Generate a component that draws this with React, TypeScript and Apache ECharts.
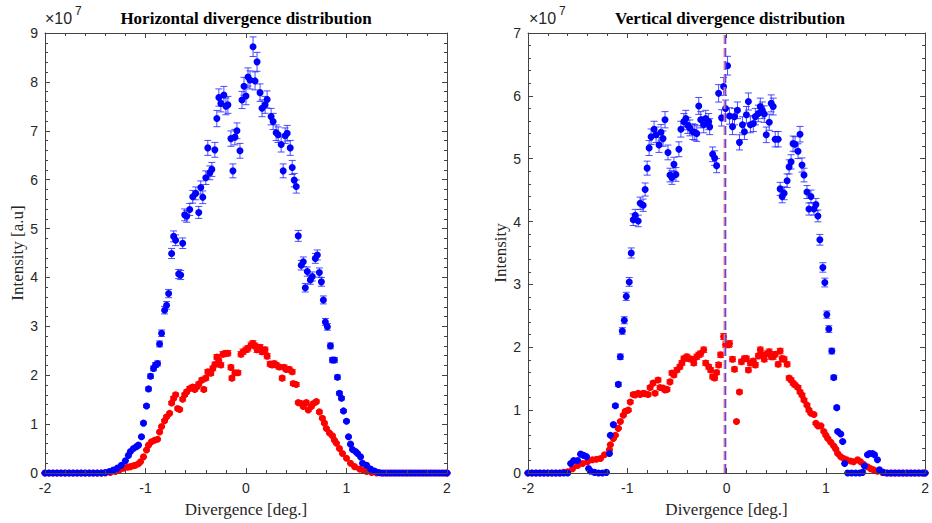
import React, { useEffect, useRef } from 'react';
import * as echarts from 'echarts';

// Values are in units of 1e7 (the "×10^7" axis multiplier).
const X_MIN = -2;
const X_MAX = 2;
const H_Y_MAX = 9;
const V_Y_MAX = 7;
const EXP_BASE = '×10';
const EXP_POWER = '7';
const H_TITLE = 'Horizontal divergence distribution';
const V_TITLE = 'Vertical divergence distribution';
const X_NAME = 'Divergence [deg.]';
const H_Y_NAME = 'Intensity [a.u]';
const V_Y_NAME = 'Intensity';

// Horizontal distribution – blue series
const hBlue: number[][] = [
  [-2, 0], [-1.96, 0], [-1.92, 0], [-1.88, 0], [-1.84, 0], [-1.8, 0], [-1.76, 0], [-1.72, 0], [-1.68, 0], [-1.64, 0],
  [-1.6, 0], [-1.56, 0], [-1.52, 0], [-1.48, 0], [-1.44, 0],
  [-1.4, 0.01], [-1.36, 0.03], [-1.32, 0.06], [-1.28, 0.1], [-1.24, 0.16], [-1.2, 0.25], [-1.17, 0.36], [-1.15, 0.44],
  [-1.12, 0.5], [-1.09, 0.54], [-1.07, 0.57], [-1.04, 0.74], [-1.02, 1.02], [-0.99, 1.37], [-0.97, 1.72], [-0.95, 1.98],
  [-0.92, 2.14], [-0.9, 2.21], [-0.88, 2.24], [-0.86, 2.64], [-0.84, 2.86], [-0.81, 3.33], [-0.79, 3.43], [-0.77, 3.67],
  [-0.74, 4.49], [-0.72, 4.84], [-0.7, 4.76], [-0.67, 4.07], [-0.65, 4.05], [-0.63, 4.7], [-0.61, 5.28], [-0.59, 5.25],
  [-0.56, 5.39], [-0.53, 5.65], [-0.5, 5.72], [-0.47, 5.33], [-0.45, 5.84], [-0.43, 5.64], [-0.4, 6.04], [-0.38, 6.65],
  [-0.36, 6.14], [-0.34, 6.21], [-0.31, 6.61], [-0.29, 7.25], [-0.27, 7.68], [-0.25, 7.56], [-0.22, 7.73], [-0.2, 7.5],
  [-0.18, 7.53], [-0.15, 6.84], [-0.13, 6.18], [-0.11, 6.87], [-0.09, 7.0], [-0.06, 6.59], [-0.04, 7.63], [-0.02, 7.91],
  [0, 7.71], [0.02, 8.1], [0.04, 8.04], [0.07, 8.72], [0.09, 8.02], [0.11, 8.41], [0.14, 7.78], [0.16, 7.46], [0.19, 7.53],
  [0.21, 7.64], [0.25, 7.29], [0.27, 7.19], [0.3, 6.96], [0.32, 6.92], [0.35, 6.72], [0.37, 6.18], [0.39, 6.9], [0.41, 6.95],
  [0.44, 6.65], [0.46, 6.25], [0.48, 5.99], [0.5, 5.86], [0.52, 4.85], [0.55, 4.25], [0.57, 4.32], [0.59, 3.79], [0.61, 4.12],
  [0.64, 3.95], [0.66, 4.02], [0.69, 4.39], [0.71, 4.46], [0.73, 4.1], [0.75, 3.91], [0.77, 3.54], [0.79, 3.09], [0.81, 2.99],
  [0.84, 2.6], [0.86, 2.31], [0.88, 2.31], [0.91, 1.96], [0.93, 1.63], [0.95, 1.53], [0.97, 1.27], [1.0, 1.06], [1.02, 0.74],
  [1.04, 0.59], [1.06, 0.48], [1.09, 0.44], [1.11, 0.4], [1.14, 0.33], [1.16, 0.2], [1.2, 0.16], [1.24, 0.08], [1.28, 0.04],
  [1.32, 0.01], [1.36, 0], [1.4, 0], [1.44, 0], [1.48, 0], [1.52, 0], [1.56, 0], [1.6, 0], [1.64, 0], [1.68, 0], [1.72, 0],
  [1.76, 0], [1.8, 0], [1.84, 0], [1.88, 0], [1.92, 0], [1.96, 0], [2, 0],
];

// Horizontal distribution – red series
const hRed: number[][] = [
  [-2, 0], [-1.96, 0], [-1.92, 0], [-1.88, 0], [-1.84, 0], [-1.8, 0], [-1.76, 0], [-1.72, 0], [-1.68, 0], [-1.64, 0],
  [-1.6, 0], [-1.56, 0], [-1.52, 0], [-1.48, 0], [-1.44, 0],
  [-1.4, 0], [-1.35, 0.01], [-1.3, 0.03], [-1.26, 0.06], [-1.22, 0.1], [-1.18, 0.12], [-1.15, 0.13], [-1.12, 0.15],
  [-1.1, 0.16], [-1.07, 0.19], [-1.05, 0.23], [-1.02, 0.33], [-0.99, 0.47], [-0.97, 0.57], [-0.94, 0.64], [-0.91, 0.67],
  [-0.88, 0.69], [-0.86, 0.84], [-0.84, 0.95], [-0.81, 1.07], [-0.79, 1.15], [-0.76, 1.22], [-0.74, 1.43], [-0.72, 1.53],
  [-0.7, 1.6], [-0.68, 1.32], [-0.66, 1.3], [-0.63, 1.51], [-0.61, 1.6], [-0.59, 1.66], [-0.56, 1.73], [-0.53, 1.76],
  [-0.51, 1.71], [-0.49, 1.76], [-0.47, 1.82], [-0.44, 1.9], [-0.42, 1.71], [-0.4, 1.94], [-0.38, 2.07], [-0.35, 2.04],
  [-0.33, 2.14], [-0.31, 2.22], [-0.29, 2.37], [-0.27, 2.3], [-0.25, 2.21], [-0.23, 2.43], [-0.2, 2.45], [-0.18, 2.45],
  [-0.15, 2.16], [-0.14, 1.94], [-0.11, 2.05], [-0.08, 2.05], [-0.05, 2.43], [-0.03, 2.48], [0, 2.52], [0.02, 2.55],
  [0.05, 2.62], [0.07, 2.65], [0.09, 2.6], [0.11, 2.52], [0.14, 2.57], [0.16, 2.48], [0.19, 2.52], [0.21, 2.39],
  [0.24, 2.23], [0.26, 2.21], [0.28, 2.24], [0.3, 2.21], [0.33, 2.17], [0.36, 1.94], [0.38, 2.16], [0.4, 2.12],
  [0.43, 2.12], [0.46, 2.07], [0.47, 1.83], [0.5, 1.81], [0.52, 1.44], [0.55, 1.42], [0.57, 1.36], [0.6, 1.44],
  [0.62, 1.29], [0.65, 1.36], [0.67, 1.42], [0.7, 1.46], [0.73, 1.25], [0.76, 1.12], [0.78, 1.02], [0.8, 0.91],
  [0.83, 0.82], [0.86, 0.76], [0.88, 0.67], [0.9, 0.61], [0.93, 0.5], [0.96, 0.4], [1.0, 0.3], [1.04, 0.2], [1.08, 0.13],
  [1.13, 0.08], [1.17, 0.05], [1.2, 0.03], [1.25, 0.01], [1.3, 0], [1.34, 0], [1.38, 0], [1.42, 0], [1.46, 0], [1.5, 0],
  [1.54, 0], [1.58, 0], [1.62, 0], [1.66, 0], [1.7, 0], [1.74, 0], [1.78, 0], [1.82, 0], [1.86, 0], [1.9, 0], [1.94, 0],
  [1.98, 0], [2, 0],
];

// Vertical distribution – blue series
const vBlue: number[][] = [
  [-2, 0], [-1.96, 0], [-1.92, 0], [-1.88, 0], [-1.84, 0], [-1.8, 0], [-1.76, 0], [-1.72, 0], [-1.68, 0], [-1.64, 0],
  [-1.6, 0], [-1.57, 0.15], [-1.54, 0.2], [-1.5, 0.2], [-1.47, 0.3], [-1.44, 0.28], [-1.41, 0.26], [-1.39, 0.07],
  [-1.37, 0.03], [-1.33, 0.01], [-1.29, 0], [-1.25, 0], [-1.21, 0.01], [-1.18, 0.31], [-1.17, 0.6], [-1.14, 0.77],
  [-1.12, 1.07], [-1.09, 1.41], [-1.07, 1.85], [-1.05, 2.26], [-1.03, 2.43], [-1.01, 2.81], [-0.98, 3.04], [-0.96, 3.5],
  [-0.94, 4.03], [-0.92, 4.1], [-0.89, 4.01], [-0.87, 4.29], [-0.84, 4.26], [-0.82, 4.51], [-0.8, 4.85], [-0.78, 5.17],
  [-0.76, 5.35], [-0.73, 5.47], [-0.71, 5.38], [-0.68, 5.22], [-0.66, 5.42], [-0.64, 5.32], [-0.62, 5.62], [-0.59, 5.1],
  [-0.57, 4.74], [-0.55, 4.7], [-0.53, 4.91], [-0.51, 4.75], [-0.48, 5.15], [-0.46, 5.47], [-0.43, 5.59], [-0.41, 5.64],
  [-0.39, 5.53], [-0.37, 5.49], [-0.34, 5.43], [-0.32, 5.42], [-0.3, 5.4], [-0.28, 5.84], [-0.26, 5.62], [-0.23, 5.54],
  [-0.21, 5.64], [-0.18, 5.59], [-0.17, 5.51], [-0.14, 5.07], [-0.12, 5.01], [-0.1, 4.89], [-0.08, 6.04], [-0.05, 5.65],
  [-0.03, 6.15], [-0.01, 5.8], [0.01, 6.48], [0.03, 5.68], [0.06, 5.51], [0.08, 5.67], [0.11, 5.77], [0.13, 5.26],
  [0.16, 5.54], [0.18, 5.43], [0.2, 5.7], [0.22, 5.91], [0.24, 5.54], [0.27, 5.56], [0.29, 5.67], [0.32, 5.72],
  [0.34, 5.83], [0.36, 5.77], [0.38, 5.71], [0.4, 5.38], [0.43, 5.58], [0.45, 5.88], [0.47, 5.83], [0.49, 5.31],
  [0.52, 5.31], [0.54, 4.52], [0.56, 4.4], [0.58, 4.45], [0.61, 4.65], [0.63, 4.87], [0.65, 4.95], [0.67, 5.24],
  [0.69, 5.23], [0.72, 5.12], [0.74, 5.39], [0.76, 4.9], [0.78, 4.74], [0.81, 4.47], [0.83, 4.2], [0.85, 4.4],
  [0.88, 4.2], [0.9, 4.27], [0.92, 4.09], [0.94, 3.71], [0.97, 3.27], [0.99, 3.03], [1.01, 2.52], [1.03, 2.29],
  [1.06, 1.94], [1.08, 1.52], [1.11, 1.04], [1.12, 0.66], [1.15, 0.62], [1.17, 0.5], [1.19, 0.15], [1.22, 0],
  [1.26, 0], [1.3, 0], [1.34, 0], [1.37, 0.01], [1.39, 0.11], [1.42, 0.29], [1.44, 0.31], [1.47, 0.31], [1.49, 0.29],
  [1.52, 0.21], [1.54, 0.05], [1.58, 0.01], [1.62, 0], [1.66, 0], [1.7, 0], [1.74, 0], [1.78, 0], [1.82, 0], [1.86, 0],
  [1.9, 0], [1.94, 0], [1.98, 0], [2, 0],
];

// Vertical distribution – red series
const vRed: number[][] = [
  [-2, 0], [-1.96, 0], [-1.92, 0], [-1.88, 0], [-1.84, 0], [-1.8, 0], [-1.76, 0], [-1.72, 0], [-1.68, 0], [-1.64, 0.01],
  [-1.6, 0.02], [-1.55, 0.07], [-1.5, 0.12], [-1.45, 0.15], [-1.4, 0.18], [-1.35, 0.21], [-1.31, 0.22], [-1.27, 0.23],
  [-1.23, 0.29], [-1.18, 0.37], [-1.17, 0.45], [-1.14, 0.55], [-1.12, 0.6], [-1.09, 0.71], [-1.07, 0.82], [-1.04, 0.92],
  [-1.02, 0.98], [-0.99, 1.0], [-0.97, 1.13], [-0.94, 1.25], [-0.92, 1.24], [-0.89, 1.27], [-0.87, 1.25], [-0.84, 1.27],
  [-0.82, 1.26], [-0.79, 1.25], [-0.77, 1.36], [-0.74, 1.43], [-0.72, 1.27], [-0.69, 1.48], [-0.67, 1.36], [-0.64, 1.35],
  [-0.62, 1.32], [-0.6, 1.33], [-0.57, 1.45], [-0.55, 1.59], [-0.53, 1.56], [-0.5, 1.64], [-0.47, 1.69], [-0.45, 1.75],
  [-0.43, 1.82], [-0.4, 1.85], [-0.38, 1.82], [-0.35, 1.81], [-0.33, 1.75], [-0.3, 1.85], [-0.28, 1.88], [-0.26, 1.9],
  [-0.23, 1.96], [-0.21, 1.75], [-0.18, 1.69], [-0.16, 1.64], [-0.14, 1.53], [-0.12, 1.51], [-0.1, 1.6], [-0.08, 1.72],
  [-0.06, 1.88], [-0.03, 2.17], [-0.01, 2.04], [0.02, 2.04], [0.03, 2.06], [0.06, 1.81], [0.08, 1.65], [0.1, 0.82],
  [0.13, 1.29], [0.15, 1.77], [0.18, 1.82], [0.2, 1.82], [0.22, 1.64], [0.24, 1.75], [0.27, 1.78], [0.29, 1.72],
  [0.32, 1.86], [0.34, 1.96], [0.36, 1.88], [0.38, 1.81], [0.41, 1.9], [0.43, 1.93], [0.45, 1.85], [0.47, 1.85],
  [0.49, 1.89], [0.52, 1.73], [0.54, 1.94], [0.56, 1.82], [0.58, 1.81], [0.61, 1.73], [0.63, 1.51], [0.65, 1.48],
  [0.67, 1.43], [0.69, 1.4], [0.72, 1.36], [0.74, 1.29], [0.76, 1.24], [0.78, 1.16], [0.81, 1.08], [0.83, 1.0],
  [0.85, 0.95], [0.88, 0.93], [0.9, 0.79], [0.92, 0.75], [0.95, 0.75], [0.98, 0.66], [1.0, 0.6], [1.02, 0.55],
  [1.05, 0.49], [1.08, 0.43], [1.1, 0.38], [1.12, 0.31], [1.15, 0.26], [1.18, 0.23], [1.21, 0.21], [1.25, 0.19],
  [1.28, 0.18], [1.32, 0.21], [1.35, 0.18], [1.38, 0.14], [1.42, 0.1], [1.45, 0.07], [1.48, 0.05], [1.52, 0.03],
  [1.57, 0.01], [1.61, 0], [1.65, 0], [1.69, 0], [1.73, 0], [1.77, 0], [1.81, 0], [1.85, 0], [1.89, 0], [1.93, 0],
  [1.97, 0], [2, 0],
];

// Relative uncertainty of the error bars
const BLUE_ERR_FRAC = 0.023;
const RED_ERR_FRAC = 0.022;
// Centres marked by dashed lines in the vertical plot
const V_RED_CENTER = -0.02;
const V_BLUE_CENTER = -0.01;

const BLUE = '#0000ff';
const RED = '#ff0000';
const AXIS = '#444444';
const TEXT = '#262626';
const SANS = 'Liberation Sans';
const SERIF = 'Liberation Serif';

const errData = (pts: number[][], f: number) => pts.map(([x, y]) => [x, y - y * f, y + y * f]);

const makeErr = (color: string, half: number, opacity: number) => (params: any, api: any) => {
  const x = api.value(0);
  const lo = api.coord([x, api.value(1)]);
  const hi = api.coord([x, api.value(2)]);
  const style = { stroke: color, lineWidth: 1, opacity };
  return {
    type: 'group',
    children: [
      { type: 'line', shape: { x1: lo[0], y1: lo[1], x2: hi[0], y2: hi[1] }, style },
      { type: 'line', shape: { x1: lo[0] - half, y1: lo[1], x2: lo[0] + half, y2: lo[1] }, style },
      { type: 'line', shape: { x1: hi[0] - half, y1: hi[1], x2: hi[0] + half, y2: hi[1] }, style },
    ],
  };
};

function xAxis(gridIndex: number, top: boolean) {
  return {
    type: 'value',
    gridIndex,
    min: X_MIN,
    max: X_MAX,
    interval: 1,
    position: top ? 'top' : 'bottom',
    z: 10,
    axisLine: { show: true, onZero: false, lineStyle: { color: AXIS, width: 1 } },
    axisTick: { show: true, inside: true, length: 5, lineStyle: { color: AXIS, width: 1 } },
    minorTick: { show: true, splitNumber: 5, length: 3, lineStyle: { color: AXIS, width: 1 } },
    axisLabel: { show: !top, color: TEXT, fontFamily: SANS, fontSize: 14, margin: 8 },
    splitLine: { show: false },
    minorSplitLine: { show: false },
    name: top ? '' : X_NAME,
    nameLocation: 'middle',
    nameGap: 28,
    nameTextStyle: { fontFamily: SERIF, fontSize: 17, color: TEXT },
  };
}

function yAxis(gridIndex: number, right: boolean, max: number, name: string, gap: number) {
  return {
    type: 'value',
    gridIndex,
    min: 0,
    max,
    interval: 1,
    position: right ? 'right' : 'left',
    z: 10,
    axisLine: { show: true, onZero: false, lineStyle: { color: AXIS, width: 1 } },
    axisTick: { show: true, inside: true, length: 5, lineStyle: { color: AXIS, width: 1 } },
    minorTick: { show: true, splitNumber: 5, length: 3, lineStyle: { color: AXIS, width: 1 } },
    axisLabel: { show: !right, color: TEXT, fontFamily: SANS, fontSize: 14, margin: 7 },
    splitLine: { show: false },
    minorSplitLine: { show: false },
    name: right ? '' : name,
    nameLocation: 'middle',
    nameGap: gap,
    nameTextStyle: { fontFamily: SERIF, fontSize: 17, color: TEXT },
  };
}

function panelSeries(xi: number, yi: number, blue: number[][], red: number[][]) {
  return [
    {
      type: 'custom', xAxisIndex: xi, yAxisIndex: yi, silent: true,
      renderItem: makeErr(RED, 3.5, 0.85), encode: { x: 0, y: [1, 2] },
      data: errData(red, RED_ERR_FRAC),
    },
    {
      type: 'scatter', xAxisIndex: xi, yAxisIndex: yi, silent: true,
      symbol: 'circle', symbolSize: 7, itemStyle: { color: RED, opacity: 1 },
      data: red,
    },
    {
      type: 'custom', xAxisIndex: xi, yAxisIndex: yi, silent: true,
      renderItem: makeErr('#2020ff', 3.5, 0.8), encode: { x: 0, y: [1, 2] },
      data: errData(blue, BLUE_ERR_FRAC),
    },
    {
      type: 'scatter', xAxisIndex: xi, yAxisIndex: yi, silent: true,
      symbol: 'circle', symbolSize: 7, itemStyle: { color: BLUE, opacity: 1 },
      data: blue,
    },
  ];
}

export default function App() {
  const ref = useRef<HTMLDivElement>(null);
  useEffect(() => {
    if (!ref.current) return;
    const chart = echarts.init(ref.current, undefined, { renderer: 'svg' });
    const titleStyle = { fontFamily: SERIF, fontSize: 17, fontWeight: 'bold', color: '#000' };
    const expStyle = { fontFamily: SANS, fontSize: 16, fontWeight: 'normal', color: TEXT };
    const powStyle = { fontFamily: SANS, fontSize: 12, fontWeight: 'normal', color: TEXT };
    chart.setOption({
      animation: false,
      backgroundColor: '#ffffff',
      title: [
        { text: H_TITLE, left: 246, top: 10, padding: 0, textAlign: 'center', textStyle: titleStyle },
        { text: V_TITLE, left: 730, top: 10, padding: 0, textAlign: 'center', textStyle: titleStyle },
        { text: EXP_BASE, left: 45, top: 10, padding: 0, textStyle: expStyle },
        { text: EXP_POWER, left: 75, top: 5, padding: 0, textStyle: powStyle },
        { text: EXP_BASE, left: 529, top: 10, padding: 0, textStyle: expStyle },
        { text: EXP_POWER, left: 559, top: 5, padding: 0, textStyle: powStyle },
      ],
      grid: [
        { left: 45, top: 33, width: 402, height: 440 },
        { left: 528, top: 33, width: 402, height: 440 },
      ],
      xAxis: [xAxis(0, false), xAxis(0, true), xAxis(1, false), xAxis(1, true)],
      yAxis: [
        yAxis(0, false, H_Y_MAX, H_Y_NAME, 19),
        yAxis(0, true, H_Y_MAX, '', 0),
        yAxis(1, false, V_Y_MAX, V_Y_NAME, 15),
        yAxis(1, true, V_Y_MAX, '', 0),
      ],
      series: [
        ...panelSeries(0, 0, hBlue, hRed),
        ...panelSeries(2, 2, vBlue, vRed),
        {
          type: 'line', xAxisIndex: 2, yAxisIndex: 2, silent: true, symbol: 'none', z: 5,
          lineStyle: { color: '#ff7a7a', width: 2, type: [9, 4] },
          data: [[V_RED_CENTER, 0], [V_RED_CENTER, V_Y_MAX]],
        },
        {
          type: 'line', xAxisIndex: 2, yAxisIndex: 2, silent: true, symbol: 'none', z: 5,
          lineStyle: { color: '#4a4aff', width: 1.5, type: [9, 4] },
          data: [[V_BLUE_CENTER, 0], [V_BLUE_CENTER, V_Y_MAX]],
        },
      ],
    });
    return () => chart.dispose();
  }, []);
  return (
    <div
      ref={ref}
      style={{ position: 'fixed', left: 0, top: 0, width: 932, height: 523, background: '#fff' }}
    />
  );
}
